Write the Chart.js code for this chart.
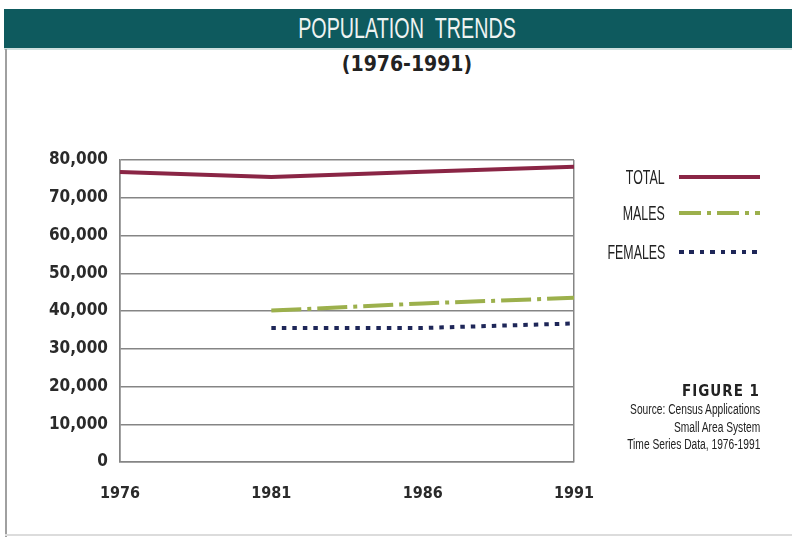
<!DOCTYPE html>
<html>
<head>
<meta charset="utf-8">
<script src="https://cdn.jsdelivr.net/npm/chart.js@4.4.1/dist/chart.umd.min.js"></script>
<style>
  html, body { margin:0; padding:0; background:#fff; }
  #wrap { position:relative; width:792px; height:537px; overflow:hidden; background:#fff; }
  #banner { position:absolute; left:4px; top:9px; width:788px; height:39px; background:#0e5a5e; border-bottom:2px solid #cfe0df; }
  #title { position:absolute; left:22px; top:9px; width:770px; height:39px; text-align:center; color:#eef3f2;
           font-family:"Liberation Sans Narrow","Liberation Sans",sans-serif; font-size:29px; line-height:39px; }
  #title span { display:inline-block; transform:scaleX(0.68); }
  #sub { position:absolute; left:22px; top:50px; width:770px; text-align:center; color:#222;
         font-family:"DejaVu Sans Condensed","DejaVu Sans",sans-serif; font-weight:bold; font-size:21px; line-height:28px; }
  #lborder { position:absolute; left:5px; top:49px; width:2px; height:488px; background:#a0a0a0; }
  #bborder { position:absolute; left:5px; top:534px; width:787px; height:2px; background:#dcdcdc; }
  canvas#c { position:absolute; left:0; top:0; }
  .leg { position:absolute; right:127px; color:#222; font-family:"Liberation Sans Narrow","Liberation Sans",sans-serif; font-size:20px; line-height:20px; text-align:right; }
  .leg span { display:inline-block; transform:scaleX(0.62); transform-origin:right center; }
  .lline { position:absolute; left:679px; width:81px; height:4px; }
  #cap { position:absolute; right:32px; top:381px; text-align:right; color:#222; font-family:"Liberation Sans Narrow","Liberation Sans",sans-serif; }
  #cap .fig { font-family:"DejaVu Sans Condensed","DejaVu Sans",sans-serif; font-weight:bold; font-size:15px; letter-spacing:1px; line-height:20px; }
  #cap .src { font-size:14px; line-height:17.5px; }
  #cap .src span { display:inline-block; transform:scaleX(0.73); transform-origin:right center; }
</style>
</head>
<body>
<div id="wrap">
  <div id="banner"></div>
  <div id="title"><span>POPULATION&nbsp;&nbsp;TRENDS</span></div>
  <div id="sub">(1976-1991)</div>
  <div id="lborder"></div>
  <div id="bborder"></div>
  <canvas id="c" width="792" height="537"></canvas>

  <div class="leg" style="top:167px;"><span>TOTAL</span></div>
  <div class="lline" style="top:175px; background:#8a2545;"></div>
  <div class="leg" style="top:203px;"><span>MALES</span></div>
  <div class="lline" style="top:211px; background:repeating-linear-gradient(90deg,#9cb04c 0 22px,transparent 22px 28px,#9cb04c 28px 32px,transparent 32px 38px);"></div>
  <div class="leg" style="top:242px;"><span>FEMALES</span></div>
  <div class="lline" style="top:250px; background:repeating-linear-gradient(90deg,#1e2658 0 4.5px,transparent 4.5px 10.5px);"></div>

  <div id="cap">
    <div class="fig">FIGURE 1</div>
    <div class="src"><span>Source: Census Applications</span></div>
    <div class="src"><span>Small Area System</span></div>
    <div class="src"><span>Time Series Data, 1976-1991</span></div>
  </div>
</div>
<script>
const years = ['1976', '1981', '1986', '1991'];
const totalPop = [76800, 75500, 76900, 78200];
const malesPop = [null, 40100, 42000, 43500];
const femalesPop = [null, 35500, 35500, 36700];
const yTicks = [0, 10000, 20000, 30000, 40000, 50000, 60000, 70000, 80000];

const tickFont = { family: '"DejaVu Sans Condensed","DejaVu Sans",sans-serif', weight: 'bold', size: 17 };
const xTickFont = { family: '"DejaVu Sans Condensed","DejaVu Sans",sans-serif', weight: 'bold', size: 16 };
const gridCol = '#858585';

new Chart(document.getElementById('c'), {
  type: 'line',
  data: {
    labels: years,
    datasets: [
      { label: 'TOTAL', data: totalPop, borderColor: '#8a2545', borderWidth: 4, pointRadius: 0, tension: 0 },
      { label: 'MALES', data: malesPop, borderColor: '#9cb04c', borderWidth: 4, borderDash: [30, 6, 4, 6], pointRadius: 0, tension: 0 },
      { label: 'FEMALES', data: femalesPop, borderColor: '#1e2658', borderWidth: 4, borderDash: [4.5, 6], pointRadius: 0, tension: 0 }
    ]
  },
  options: {
    responsive: false,
    animation: false,
    events: [],
    layout: { padding: { left: 0, right: 218, top: 160, bottom: 0 } },
    plugins: { legend: { display: false }, tooltip: { enabled: false }, title: { display: false } },
    scales: {
      x: {
        type: 'category',
        offset: false,
        grid: {
          drawTicks: false,
          lineWidth: 1.5,
          color: (ctx) => (ctx.index === 0 || ctx.index === years.length - 1) ? gridCol : 'rgba(0,0,0,0)'
        },
        border: { color: gridCol, width: 1.5 },
        ticks: { color: '#2a2a2a', font: xTickFont, padding: 22, maxRotation: 0, autoSkip: false },
        afterFit: (s) => { s.height = 75; }
      },
      y: {
        min: 0, max: 80000,
        afterBuildTicks: (s) => { s.ticks = yTicks.map(v => ({ value: v })); },
        grid: { drawTicks: false, lineWidth: 1.5, color: gridCol },
        border: { color: gridCol, width: 1.5 },
        ticks: { color: '#2a2a2a', font: tickFont, padding: 12,
                 callback: (v) => Number(v).toLocaleString('en-US') },
        afterFit: (s) => { s.width = 120; }
      }
    }
  }
});
</script>
</body>
</html>
